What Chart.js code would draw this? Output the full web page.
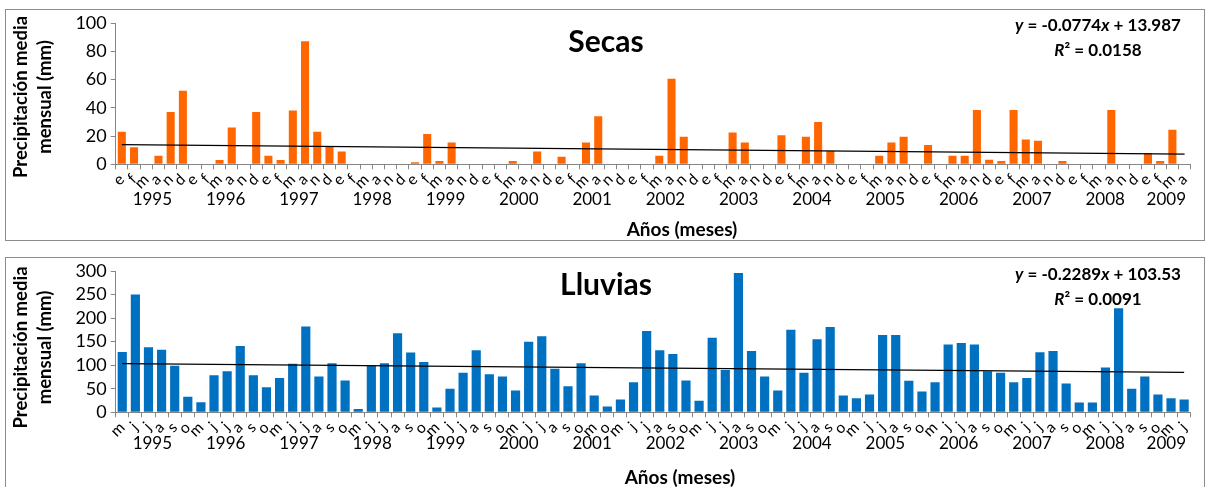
<!DOCTYPE html>
<html lang="es">
<head>
<meta charset="utf-8">
<title>Precipitación media mensual - Secas y Lluvias</title>
<script src="https://cdn.jsdelivr.net/npm/chart.js@4.4.1/dist/chart.umd.min.js"></script>
<style>
  html, body { margin: 0; padding: 0; background: #fff; }
  body { width: 1208px; height: 487px; position: relative; overflow: hidden; }
  .panel { position: absolute; left: 5px; width: 1198px; border: 1px solid #8c8c8c; background: #fff; }
  #panel-secas { top: 9px; height: 230px; }
  #panel-lluvias { top: 257px; height: 240px; }
  canvas { display: block; }
</style>
</head>
<body>
<div class="panel" id="panel-secas"><canvas id="chart-secas" width="1198" height="230"></canvas></div>
<div class="panel" id="panel-lluvias"><canvas id="chart-lluvias" width="1198" height="230"></canvas></div>

<script>
// ====== DATOS ======
const años = ['1995', '1996', '1997', '1998', '1999', '2000', '2001', '2002',
              '2003', '2004', '2005', '2006', '2007', '2008', '2009'];

// meses de cada año (etiquetas del eje x)
const mesesSecasPorAño = años.map(a => a === '2009' ? ['e', 'f', 'm', 'a'] : ['e', 'f', 'm', 'a', 'n', 'd']);
const mesesLluviasPorAño = años.map(a => {
    if (a === '2001') return ['m', 'o'];
    if (a === '2009') return ['m', 'j'];
    return ['m', 'j', 'j', 'a', 's', 'o'];
});

// precipitación media mensual (mm), temporada de secas
const secasValores = [
    23, 12, 0, 6, 37, 52,        // 1995
    0, 0, 3, 26, 0, 37,          // 1996
    6, 3, 38, 87, 23, 13,        // 1997
    9, 0, 0, 0, 0, 0,            // 1998
    1.5, 21.5, 2.3, 15.5, 0, 0,  // 1999
    0, 0, 2.3, 0, 9, 0,          // 2000
    5.3, 0, 15.5, 34, 0, 0,      // 2001
    0, 0, 6, 60.5, 19.5, 0,      // 2002
    0, 0, 22.5, 15.5, 0, 0,      // 2003
    20.5, 0, 19.5, 30, 9.5, 0,   // 2004
    0, 0, 6, 15.5, 19.5, 0,      // 2005
    13.7, 0, 6, 6, 38.5, 3.2,    // 2006
    2.3, 38.5, 17.6, 16.7, 0, 2.3, // 2007
    0, 0, 0, 38.5, 0, 0,         // 2008
    8, 2.3, 24.4, 0              // 2009
];

// precipitación media mensual (mm), temporada de lluvias
const lluviasValores = [
    128, 250, 138, 133, 99, 33,      // 1995
    21.5, 78.5, 87, 141, 78.5, 53,   // 1996
    73, 103, 182, 76, 104, 67.5,     // 1997
    7, 99, 104, 168, 127, 107,       // 1998
    10, 50, 84, 132, 81, 76,         // 1999
    46.5, 150, 161.5, 92.5, 55.5, 104, // 2000
    35.5, 12.5,                      // 2001
    27, 64, 172.5, 132, 124, 67.5,   // 2002
    24.5, 158.5, 90, 296, 130, 76,   // 2003
    46.5, 175.5, 84, 155, 181, 35.5, // 2004
    30, 38, 164, 164, 67, 44,        // 2005
    64, 144, 147, 144, 87, 84,       // 2006
    64, 73, 127.5, 130, 61, 21,      // 2007
    21, 95, 221, 50, 76, 38,         // 2008
    30, 27                           // 2009
];

// líneas de tendencia lineal (x = 1..n)
const secasTendencia = { m: -0.0774, b: 13.987, r2: '0.0158' };
const lluviasTendencia = { m: -0.2289, b: 103.53, r2: '0.0091' };

// ====== ESTILO ======
const FUENTE = 'Lato, "Open Sans", sans-serif';
const GRIS = '#868686';

const secasEtiquetas = mesesSecasPorAño.flat();
const lluviasEtiquetas = mesesLluviasPorAño.flat();

// solo extremos de la recta, el resto se une con spanGaps
function puntosTendencia(valores, t) {
    const n = valores.length;
    return valores.map((_, i) => (i === 0 || i === n - 1) ? +(t.b + t.m * (i + 1)).toFixed(3) : null);
}

function textoMixto(ctx, partes, cx, cy, size) {
    let total = 0;
    partes.forEach(p => {
        ctx.font = (p[1] ? 'italic ' : '') + 'bold ' + size + 'px ' + FUENTE;
        total += ctx.measureText(p[0]).width;
    });
    let x = cx - total / 2;
    ctx.textAlign = 'left';
    partes.forEach(p => {
        ctx.font = (p[1] ? 'italic ' : '') + 'bold ' + size + 'px ' + FUENTE;
        ctx.fillText(p[0], x, cy);
        x += ctx.measureText(p[0]).width;
    });
}

// ====== TEXTOS (título, ecuación, títulos de ejes, años) ======
const textosPlugin = {
    id: 'textos',
    afterDraw(chart, args, o) {
        const { ctx, chartArea: a } = chart;
        ctx.save();
        ctx.fillStyle = '#000';
        ctx.textBaseline = 'middle';
        ctx.textAlign = 'center';

        // título
        ctx.font = 'bold 30px ' + FUENTE;
        ctx.fillText(o.titulo, o.tituloX, o.tituloY);

        // ecuación de la tendencia
        const t = o.tendencia;
        textoMixto(ctx, [['y', true], [' = ' + t.m + ''], ['x', true], [' + ' + t.b]], o.ecX, o.ecY, 17);
        textoMixto(ctx, [['R', true], ['² = ' + t.r2]], o.ecX, o.ecY + 25, 17);

        // título eje y (dos líneas)
        ctx.font = 'bold 18.5px ' + FUENTE;
        ctx.textAlign = 'center';
        [['Precipitación media', 14.7], ['mensual (mm)', 39]].forEach(([txt, x]) => {
            ctx.save();
            ctx.translate(x, o.ejeYCentro);
            ctx.rotate(-Math.PI / 2);
            ctx.fillText(txt, 0, 0);
            ctx.restore();
        });

        // años: centrados en los grupos de meses de Secas
        // (en la referencia la fila de años de Lluvias está alineada con la de Secas)
        const total = secasEtiquetas.length;
        let inicio = 0;
        ctx.font = '17px ' + FUENTE;
        mesesSecasPorAño.forEach((meses, k) => {
            const x = a.left + (inicio + meses.length / 2) / total * (a.right - a.left);
            ctx.fillText(años[k], x, o.añosY);
            inicio += meses.length;
        });

        // título eje x
        ctx.font = 'bold 19px ' + FUENTE;
        ctx.fillText('Años (meses)', o.ejeXTituloX, o.ejeXTituloY);
        ctx.restore();
    }
};

// ====== CREAR GRÁFICO ======
function crearGrafico(canvasId, cfg) {
    return new Chart(document.getElementById(canvasId), {
        type: 'bar',
        data: {
            labels: cfg.etiquetas,
            datasets: [
                {
                    type: 'line',
                    data: puntosTendencia(cfg.valores, cfg.tendencia),
                    borderColor: '#000',
                    borderWidth: 1.3,
                    pointRadius: 0,
                    spanGaps: true,
                    order: 0
                },
                {
                    data: cfg.valores,
                    backgroundColor: cfg.color,
                    barPercentage: cfg.anchoBarra,
                    categoryPercentage: 1,
                    order: 1
                }
            ]
        },
        options: {
            responsive: false,
            animation: false,
            events: [],
            layout: { padding: { left: 0, top: cfg.arriba, right: 13.3, bottom: 0 } },
            plugins: {
                legend: { display: false },
                tooltip: { enabled: false },
                textos: cfg.textos
            },
            scales: {
                x: {
                    offset: true,
                    grid: { offset: true, drawOnChartArea: false, drawTicks: true, tickLength: 5, color: GRIS },
                    border: { color: GRIS, width: 1 },
                    ticks: {
                        autoSkip: false,
                        minRotation: 45,
                        maxRotation: 45,
                        padding: 1,
                        color: '#000',
                        font: { family: FUENTE, size: 15.5 }
                    },
                    afterFit: s => { s.height = 230 - 154.3; }
                },
                y: {
                    min: 0,
                    max: cfg.max,
                    ticks: {
                        stepSize: cfg.paso,
                        autoSkip: false,
                        padding: 4,
                        color: '#000',
                        font: { family: FUENTE, size: 18, lineHeight: 1 }
                    },
                    grid: { drawOnChartArea: false, drawTicks: true, tickLength: 5, color: GRIS },
                    border: { color: GRIS, width: 1 },
                    afterFit: s => { s.width = 109.7; }
                }
            }
        },
        plugins: [textosPlugin]
    });
}

crearGrafico('chart-secas', {
    etiquetas: secasEtiquetas,
    valores: secasValores,
    tendencia: secasTendencia,
    color: '#FF6600',
    anchoBarra: 0.66,
    max: 100,
    paso: 20,
    arriba: 10,
    textos: {
        titulo: 'Secas', tituloX: 600, tituloY: 32,
        tendencia: secasTendencia, ecX: 1092, ecY: 15.5,
        ejeYCentro: 87, añosY: 189.5,
        ejeXTituloX: 676, ejeXTituloY: 220
    }
});

crearGrafico('chart-lluvias', {
    etiquetas: lluviasEtiquetas,
    valores: lluviasValores,
    tendencia: lluviasTendencia,
    color: '#0070C0',
    anchoBarra: 0.7,
    max: 300,
    paso: 50,
    arriba: 10.7,
    textos: {
        titulo: 'Lluvias', tituloX: 600, tituloY: 27,
        tendencia: lluviasTendencia, ecX: 1092, ecY: 16.5,
        ejeYCentro: 89.5, añosY: 185.3,
        ejeXTituloX: 674, ejeXTituloY: 220.3
    }
});
</script>
</body>
</html>
